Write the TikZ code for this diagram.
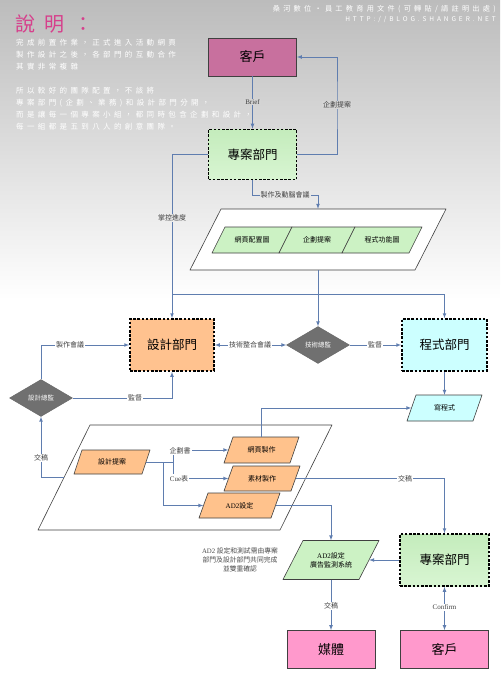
\documentclass[tikz,border=0pt]{standalone}
\usepackage{fontspec}
\setmainfont{Liberation Serif}
\newfontfamily\cjk{Noto Sans CJK TC}
\newfontfamily\cjkwide[LetterSpace=45]{Noto Sans CJK TC}
\usepackage{tikz}
\usetikzlibrary{shapes.geometric,arrows,calc}

\definecolor{topgray}{RGB}{188,188,188}
\definecolor{titlepink}{RGB}{214,64,140}
\definecolor{clientmauve}{RGB}{200,112,158}
\definecolor{clientpink}{RGB}{255,153,204}
\definecolor{pmgreenA}{RGB}{196,236,188}
\definecolor{pmgreenB}{RGB}{216,245,210}
\definecolor{designorange}{RGB}{255,194,143}
\definecolor{progcyan}{RGB}{204,255,255}
\definecolor{bossgray}{RGB}{112,112,112}
\definecolor{taskorange}{RGB}{255,194,140}
\definecolor{ideagreen}{RGB}{204,242,196}
\definecolor{flowblue}{RGB}{95,125,175}

% name, x, y, body width, height, slant, fill, text
\newcommand{\iobox}[8]{%
	\path [Para, fill=#7] (#2-#4/2-#6/2, #3+#5/2) -- ++(#4, 0) -- ++(#6, -#5) -- ++(-#4, 0) -- cycle;
	\node (#1) at (#2, #3) [ParaText, minimum width=#4, minimum height=#5] {#8};}

\begin{document}
\begin{tikzpicture}[x=1pt, y=-1pt, >=latex]
			\tikzstyle{Dept}	= [rectangle, draw=black, line width=1.7pt, dash pattern=on 2.6pt off 1.6pt, minimum width=88, minimum height=50, inner sep=0pt, font=\cjk\fontsize{12.5}{14}\selectfont]
			\tikzstyle{Client}	= [rectangle, draw=black!75, line width=0.8pt, minimum width=88, minimum height=38, font=\cjk\fontsize{13}{15}\selectfont]
			\tikzstyle{Boss}	= [diamond, draw=black!60, fill=bossgray, text=white, minimum width=63, minimum height=37, inner sep=0pt, font=\cjk\fontsize{6.5}{7}\selectfont]
			\tikzstyle{Para}	= [draw=black!75, line width=0.6pt, line join=round]
			\tikzstyle{ParaText}	= [rectangle, inner sep=0pt, align=center, font=\cjk\fontsize{7}{9}\selectfont]
			\tikzstyle{Flow}	= [draw=flowblue, line width=0.7pt]
			\tikzstyle{Lbl}		= [fill=white, text=black!75, inner sep=1pt, font=\cjk\fontsize{7}{8}\selectfont]
			\tikzstyle{Blurb}	= [anchor=north west, align=left, text=white, inner sep=0pt, font=\cjkwide\fontsize{7.5}{12}\selectfont]

			\fill [white] (0,0) rectangle (500,687);
			\shade [top color=topgray, bottom color=white] (0,0) rectangle (500,300);
			\useasboundingbox (0,0) rectangle (500,687);

			\node (title) at (15, 24) [anchor=west, inner sep=0pt, text=titlepink, font=\cjkwide\fontsize{20}{22}\selectfont] {說明：};
			\node (blurbA) at (16, 39) [Blurb] {完成前置作業，正式進入活動網頁\\製作設計之後，各部門的互動合作\\其實非常複雜};
			\node (blurbB) at (16, 87) [Blurb] {所以較好的團隊配置，不該將\\專案部門(企劃、業務)和設計部門分開，\\而是讓每一個專案小組，都同時包含企劃和設計，\\每一組都是五到八人的創意團隊。};
			\node (credit) at (496, 9) [anchor=east, inner sep=0pt, text=white, font=\cjkwide\fontsize{7.2}{8}\selectfont] {桑河數位‧員工教育用文件(可轉貼/請註明出處)};
			\node (site) at (496, 20) [anchor=east, inner sep=0pt, text=white, font=\cjkwide\fontsize{6.5}{8}\selectfont] {HTTP://BLOG.SHANGER.NET};

			\node (client) at (252.5, 57) [Client, fill=clientmauve] {客戶};
			\node (pmtop) at (252.5, 154.5) [Dept, top color=pmgreenA, bottom color=pmgreenB] {專案部門};
			\iobox{ideas}{318}{239.5}{225}{61}{31}{white}{}
			\iobox{layout}{252}{240}{67}{26}{13}{ideagreen}{網頁配置圖}
			\iobox{proposal}{317}{240}{63}{26}{13}{ideagreen}{企劃提案}
			\iobox{spec}{382}{240}{67}{26}{13}{ideagreen}{程式功能圖}

			\node (design) at (172, 345) [Dept, fill=designorange, minimum width=84, minimum height=52] {設計部門};
			\node (techboss) at (318, 345) [Boss] {技術總監};
			\node (prog) at (444.5, 345) [Dept, fill=progcyan, minimum width=85, minimum height=52] {程式部門};
			\iobox{coding}{444.5}{408}{66}{26}{9}{progcyan}{寫程式}
			\node (artboss) at (41, 398) [Boss] {設計總監};

			\iobox{works}{185}{477.5}{242}{105}{52}{white}{}
			\iobox{pitch}{112}{462}{68}{24}{8}{taskorange}{設計提案}
			\iobox{webmake}{261.5}{450}{66}{26}{9}{taskorange}{網頁製作}
			\iobox{assets}{262}{478.5}{67}{25}{9}{taskorange}{素材製作}
			\iobox{adset}{239.5}{505.5}{72}{25}{9}{taskorange}{{\rmfamily AD2}設定}

			\iobox{adtrack}{331}{560}{76}{39}{20}{ideagreen}{{\rmfamily AD2}設定\\廣告監測系統}
			\node (pmbot) at (444.5, 560) [Dept, top color=pmgreenA, bottom color=pmgreenB, minimum width=89, minimum height=52] {專案部門};
			\node (remark) at (240, 560) [align=center, text=black!70, font=\cjk\fontsize{6.8}{9}\selectfont] {{\rmfamily AD2} 設定和測試需由專案\\部門及設計部門共同完成\\並雙重確認};
			\node (media) at (331, 649.5) [Client, fill=clientpink] {媒體};
			\node (clientbot) at (444.5, 649.5) [Client, fill=clientpink] {客戶};

			\coordinate (upA) at (337, 105);
			\coordinate (meetA) at (285, 195);
			\coordinate (busL) at (172, 294);
			\coordinate (busR) at (444.5, 294);
			\coordinate (fork) at (173, 462);
			\coordinate (drop) at (163, 462);

			\draw [->] (client) -- (pmtop) [Flow];
			\draw [->] (pmtop.east) -| (upA) |- (client.east) [Flow];
			\draw [->] (pmtop.south) |- (meetA) -| (ideas.north) [Flow];
			\draw [->] (pmtop.west) -| (design.north) [Flow];
			\draw (busL) -- (busR) [Flow];
			\draw [->] (busR) -- (prog.north) [Flow];
			\draw [->] (ideas.south) -- (techboss.north) [Flow];
			\draw [<->] (design.east) -- (techboss.west) [Flow];
			\draw [->] (techboss.east) -- (prog.west) [Flow];
			\draw [->] (prog.south) -- (coding.north) [Flow];
			\draw [->] (webmake.north) |- (coding.west) [Flow];
			\draw [->] (artboss.north) |- (design.west) [Flow];
			\draw [->] (artboss.east) -| (design.south) [Flow];
			\draw [->] (works.west) -| (artboss.south) [Flow];
			\draw (pitch.east) -- (fork) [Flow];
			\draw [->] (fork) |- (webmake.west) [Flow];
			\draw [->] (fork) |- (assets.west) [Flow];
			\draw [->] (drop) |- (adset.west) [Flow];
			\draw [->] (adset.east) -| (adtrack.north) [Flow];
			\draw [->] (assets.east) -| (pmbot.north) [Flow];
			\draw [->] (pmbot.west) -- (adtrack.east) [Flow];
			\draw [->] (adtrack.south) -- (media.north) [Flow];
			\draw [<->] (pmbot.south) -- (clientbot.north) [Flow];

			\node (brieflbl) at (252.5, 102) [Lbl, fill=black!17, font=\rmfamily\fontsize{7}{8}\selectfont] {Brief};
			\node (planlbl) at (upA) [Lbl, fill=black!16] {企劃提案};
			\node (meetlbl) at (meetA) [Lbl, fill=black!9] {製作及動腦會議};
			\node (tracklbl) at (172, 218) [Lbl, fill=black!7] {掌控進度};
			\node (techlbl) at (250, 345) [Lbl] {技術整合會議};
			\node (watchlbl) at (375, 345) [Lbl] {監督};
			\node (artlbl) at (70, 345) [Lbl] {製作會議};
			\node (reviewlbl) at (135, 398) [Lbl] {監督};
			\node (handlbl) at (41, 458) [Lbl] {交稿};
			\node (doclbl) at (180, 451) [Lbl] {企劃書};
			\node (cuelbl) at (179, 478.5) [Lbl] {{\rmfamily Cue}表};
			\node (sendlbl) at (405, 478.5) [Lbl] {交稿};
			\node (medialbl) at (331, 606) [Lbl] {交稿};
			\node (confirmlbl) at (444.5, 607) [Lbl, font=\rmfamily\fontsize{7}{8}\selectfont] {Confirm};
		\end{tikzpicture}
\end{document}
